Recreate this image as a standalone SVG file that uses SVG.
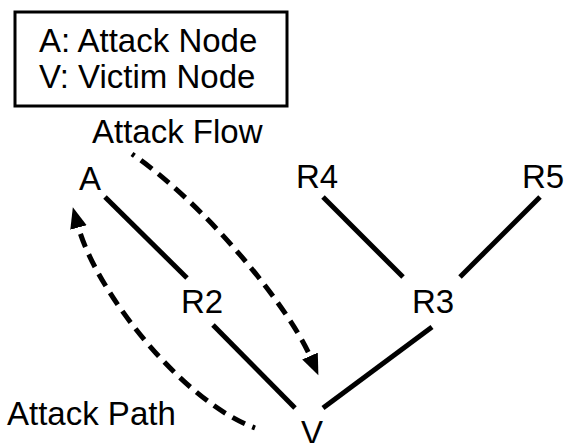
<svg xmlns="http://www.w3.org/2000/svg" width="564" height="443" viewBox="0 0 564 443">
<style>
text{font-family:"Liberation Sans",Arial,sans-serif;font-size:33px;fill:#000}
.n{text-anchor:middle}
.l{stroke:#000;stroke-width:5;fill:none}
.d{stroke:#000;stroke-width:5;fill:none;stroke-dasharray:14 8;stroke-dashoffset:11}
</style>
<defs>
<marker id="ah" markerUnits="userSpaceOnUse" markerWidth="22" markerHeight="18" refX="0" refY="8.5" orient="auto" viewBox="0 0 22 18">
<path d="M0,0 L21,8.5 L0,17 z" fill="#000"/>
</marker>
</defs>
<g id="legend">
<rect x="15" y="12" width="272" height="94" fill="#fff" stroke="#000" stroke-width="3"/>
<text x="39" y="52">A: Attack Node</text>
<text x="39" y="88">V: Victim Node</text>
</g>
<g id="connectors">
<line class="l" x1="105" y1="197" x2="187" y2="278"/>
<line class="l" x1="213" y1="325" x2="295" y2="408"/>
<line class="l" x1="323" y1="408" x2="432" y2="327"/>
<line class="l" x1="323" y1="197" x2="403" y2="277"/>
<line class="l" x1="540" y1="197" x2="460" y2="277"/>
<path class="d" d="M132,154 C210,208 290,310 310,356" marker-end="url(#ah)"/>
<path class="d" d="M255,428 C180,400 96,290 78.5,227.5" marker-end="url(#ah)"/>
</g>
<g id="node-A"><text class="n" x="90" y="190">A</text></g>
<g id="node-R4"><text class="n" x="317" y="188">R4</text></g>
<g id="node-R5"><text class="n" x="543" y="188">R5</text></g>
<g id="node-R2"><text class="n" x="202" y="313">R2</text></g>
<g id="node-R3"><text class="n" x="433" y="313">R3</text></g>
<g id="node-V"><text class="n" x="312" y="444">V</text></g>
<g id="labels">
<text x="92" y="143">Attack Flow</text>
<text x="7" y="425">Attack Path</text>
</g>
</svg>
